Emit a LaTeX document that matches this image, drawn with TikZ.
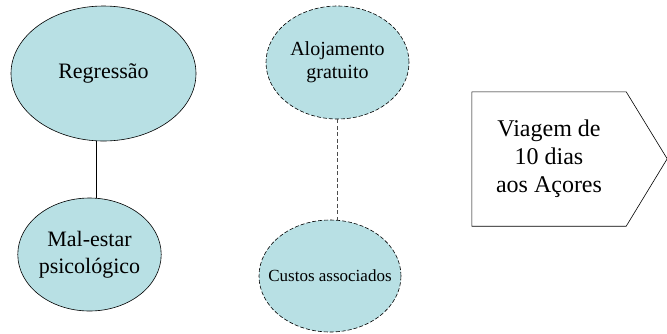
\documentclass[tikz,border=0pt]{standalone}
\usepackage{fontspec}
\setmainfont{Liberation Serif}
\usepackage{tikz}
\usetikzlibrary{positioning,shapes.geometric}
\definecolor{bubble}{RGB}{184,224,228}

\begin{document}
\begin{tikzpicture}[x=1pt, y=-1pt,
  oval/.style={draw, ellipse, inner sep=0pt, fill=bubble, align=center, line width=0.6pt},
  maybe/.style={oval, dash pattern=on 4pt off 2pt},
  link/.style={line width=0.6pt},
  weak/.style={link, dash pattern=on 4pt off 2.5pt, draw=black!70}
]
\useasboundingbox (0,0) rectangle (667,333);
\node[oval, minimum width=185pt, minimum height=135pt, font=\rmfamily\fontsize{22}{27}\selectfont] (regr) at (103.5,73.5) {Regressão};
\node[oval, minimum width=143pt, minimum height=113pt, font=\rmfamily\fontsize{22}{27}\selectfont] (mal) at (89.5,254.5) {Mal-estar\\psicológico};
\node[maybe, minimum width=143pt, minimum height=113pt, font=\rmfamily\fontsize{20}{23}\selectfont] (aloj) at (337.5,62.5) {Alojamento\\gratuito};
\node[maybe, minimum width=142pt, minimum height=112pt, inner xsep=-16pt, font=\rmfamily\fontsize{17}{20}\selectfont] (custos) at (330,276) {Custos associados};
\node[minimum width=154pt, minimum height=134pt, inner sep=0pt, align=center, font=\rmfamily\fontsize{24}{28}\selectfont] (trip) at (549,159) {Viagem de\\10 dias\\aos Açores};
\draw[link] (trip.north west) -- (trip.north east) -- ++(41,67) -- (trip.south east) -- (trip.south west) -- cycle;
\coordinate (axis) at (96,0);
\draw[link] (regr.south -| axis) -- (mal.north -| axis);
\draw[weak] (aloj.south) -- (custos.north -| aloj.south);
\end{tikzpicture}
\end{document}
